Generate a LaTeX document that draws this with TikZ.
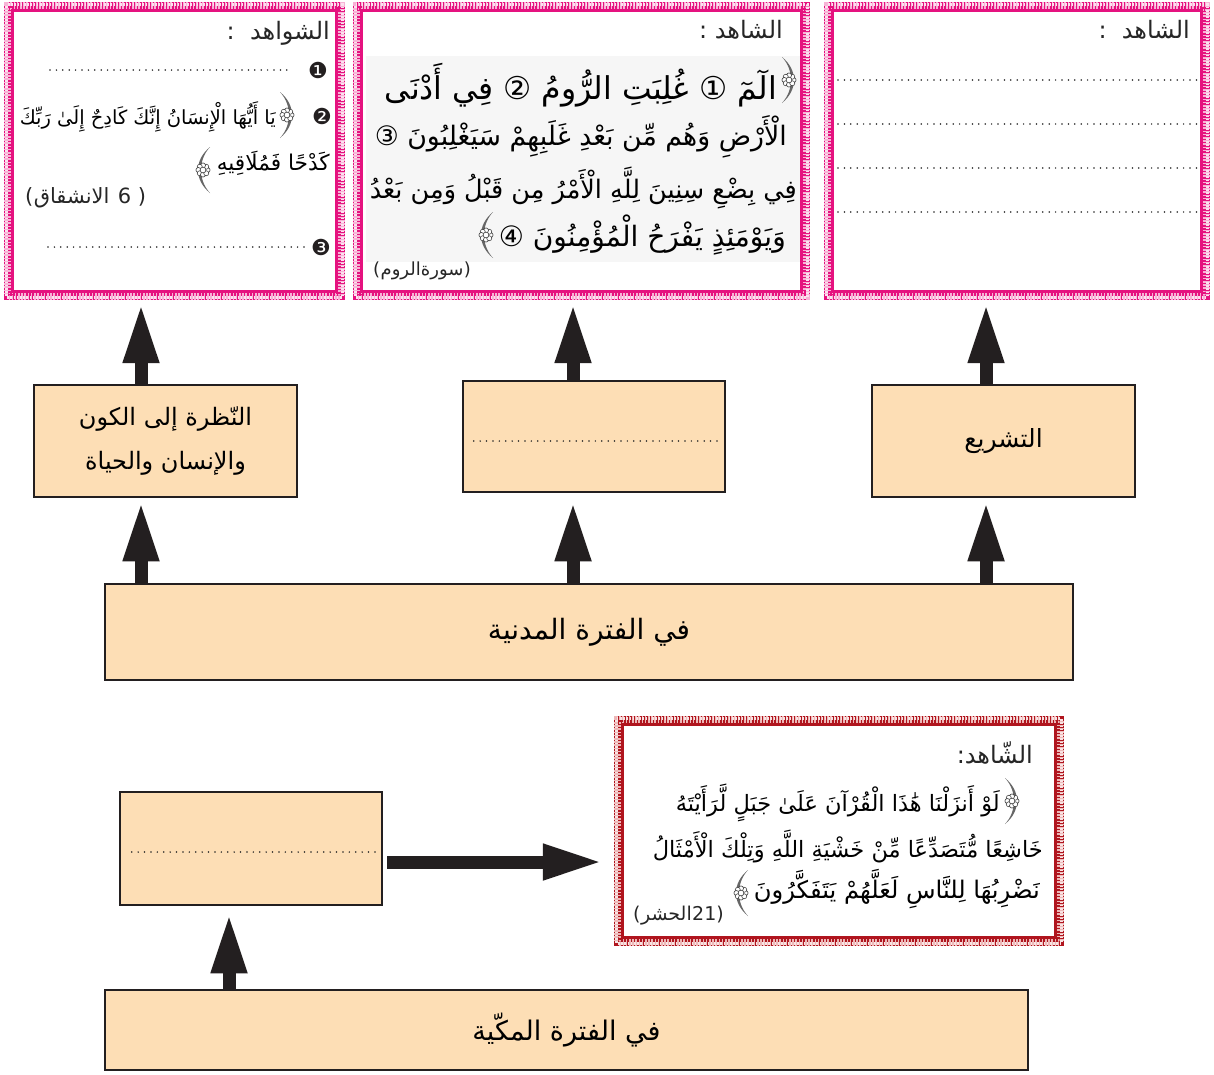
\documentclass[tikz,border=0pt]{standalone}
\usepackage{fontspec}
\usepackage{graphicx}
\usetikzlibrary{arrows.meta,calc}
\newfontfamily\ar[Script=Arabic]{DejaVu Sans}
\newfontfamily\djv{DejaVu Sans}
\TeXXeTstate=1
\definecolor{tanc}{HTML}{FDDEB5}
\definecolor{arrowc}{HTML}{231F20}
\definecolor{pinkD}{HTML}{E5127F}
\definecolor{pinkL}{HTML}{F7B3D6}
\definecolor{redD}{HTML}{B0151E}
\definecolor{redL}{HTML}{EDB8B8}
\newcommand\texframe[3]{%
  \draw[#3, line width=9pt] ([shift={(4.5pt,-4.5pt)}]#1.north west) rectangle ([shift={(-4.5pt,4.5pt)}]#1.south east);
  \draw[#2, line width=9pt, dash pattern=on 1.6pt off 1.6pt] ([shift={(4.5pt,-4.5pt)}]#1.north west) rectangle ([shift={(-4.5pt,4.5pt)}]#1.south east);
  \draw[#3!40!white, line width=3pt, dash pattern=on 1.6pt off 1.6pt, dash phase=1.6pt] ([shift={(3pt,-3pt)}]#1.north west) rectangle ([shift={(-3pt,3pt)}]#1.south east);
  \draw[#2, line width=2.5pt] ([shift={(8.5pt,-8.5pt)}]#1.north west) rectangle ([shift={(-8.5pt,8.5pt)}]#1.south east);
}
% small eight-petal flower
\newcommand\flw[1]{%
  \foreach \a in {0,45,...,315}{\filldraw[draw=black!75, fill=white, line width=0.6pt] ($#1+(\a:4.6pt)$) circle (2.5pt);}
  \filldraw[draw=black!75, fill=white, line width=0.6pt] #1 circle (2.9pt);}
% ornate brackets drawn as shapes (no installed font has U+FD3E/FD3F)
\newcommand\ornL[1]{% "(" shaped, at the left end of a verse
  \fill[black!60] ($#1+(7,-23)$) .. controls ($#1+(-9,-10)$) and ($#1+(-9,10)$) .. ($#1+(7,23)$)
     .. controls ($#1+(-5,10)$) and ($#1+(-5,-10)$) .. ($#1+(7,-23)$) -- cycle;
  \flw{($#1+(0,0)$)}}
\newcommand\ornR[1]{% ")" shaped, at the right end of a verse
  \fill[black!60] ($#1+(-7,-23)$) .. controls ($#1+(9,-10)$) and ($#1+(9,10)$) .. ($#1+(-7,23)$)
     .. controls ($#1+(5,10)$) and ($#1+(5,-10)$) .. ($#1+(-7,-23)$) -- cycle;
  \flw{($#1+(0,0)$)}}
\newcommand\qline[2]{\resizebox{#1}{!}{#2}}
\begin{document}
\begin{tikzpicture}[x=1pt,y=-1pt,
  tanbox/.style={draw=arrowc, line width=2.5pt, fill=tanc, inner sep=0pt, font=\ar\fontsize{24}{44}\selectfont, align=center},
  frame/.style={inner sep=0pt, rectangle},
  bigarrow/.style={draw=arrowc, line width=13pt, -{Triangle[length=60pt,width=33pt]}},
  txt/.style={inner sep=0pt, font=\ar\fontsize{20}{24}\selectfont, text=black},
  ttl/.style={inner sep=0pt, font=\ar\fontsize{24}{28}\selectfont, text=black!85},
  src/.style={inner sep=0pt, font=\ar\fontsize{19}{22}\selectfont, text=black!85},
  srcl/.style={inner sep=0pt, font=\djv\fontsize{19}{22}\selectfont, text=black!85},
  num/.style={inner sep=0pt, font=\djv\fontsize{22}{24}\selectfont, text=arrowc},
  dotline/.style={line width=1.7pt, dash pattern=on 0pt off 6.4pt, line cap=round, draw=black!85},
]
\useasboundingbox (0,0) rectangle (1214,1074);
\fill[white] (0,0) rectangle (1214,1074);

% frames
\node[frame, minimum width=341pt, minimum height=298pt] (f1) at (174.5,151) {};
\node[frame, minimum width=457pt, minimum height=298pt] (f2) at (581.5,151) {};
\node[frame, minimum width=386pt, minimum height=298pt] (f3) at (1017,151) {};
\node[frame, minimum width=450pt, minimum height=230pt] (f4) at (839,831) {};
\fill[gray!7] (366,56) rectangle (801,262);
\texframe{f1}{pinkD}{pinkL}
\texframe{f2}{pinkD}{pinkL}
\texframe{f3}{pinkD}{pinkL}
\texframe{f4}{redD}{redL}

% tan boxes
\node[tanbox, minimum width=263pt, minimum height=112pt] (b1) at (165.5,441) {\beginR النّظرة إلى الكون\endR\\\beginR والإنسان والحياة\endR};
\node[tanbox, minimum width=262pt, minimum height=111pt] (b2) at (594,436.5) {};
\node[tanbox, minimum width=263pt, minimum height=112pt, font=\ar\fontsize{25}{30}\selectfont] (b3) at (1003.5,441) {التشريع};
\node[tanbox, minimum width=968pt, minimum height=96pt, font=\ar\fontsize{28}{32}\selectfont] (madani) at (589,632) {\beginR في الفترة المدنية\endR};
\node[tanbox, minimum width=262pt, minimum height=113pt] (b4) at (251,848.5) {};
\node[tanbox, minimum width=923pt, minimum height=80pt, font=\ar\fontsize{27}{32}\selectfont] (makki) at (566.5,1030) {\beginR في الفترة المكّية\endR};
\draw[dotline] ($(b2.west)+(12,4.5)$) -- ($(b2.east)+(-7,4.5)$);
\draw[dotline] ($(b4.west)+(13,3.5)$) -- ($(b4.east)+(-5,3.5)$);

% arrows
\draw[bigarrow, shorten >=3pt] ([xshift=-24.5pt]b1.north) -- ([xshift=-24.5pt]b1.north |- f1.south);
\draw[bigarrow, shorten >=3pt] ([xshift=-21pt]b2.north) -- ([xshift=-21pt]b2.north |- f2.south);
\draw[bigarrow, shorten >=3pt] ([xshift=-17.5pt]b3.north) -- ([xshift=-17.5pt]b3.north |- f3.south);
\draw[bigarrow, shorten >=3pt] ([xshift=-24.5pt]b1.south |- madani.north) -- ([xshift=-24.5pt]b1.south);
\draw[bigarrow, shorten >=8pt] ([xshift=-21pt]b2.south |- madani.north) -- ([xshift=-21pt]b2.south);
\draw[bigarrow, shorten >=3pt] ([xshift=-17.5pt]b3.south |- madani.north) -- ([xshift=-17.5pt]b3.south);
\draw[bigarrow, shorten >=7pt] ([xshift=-22pt]b4.south |- makki.north) -- ([xshift=-22pt]b4.south);
\draw[bigarrow, shorten <=4pt, shorten >=11pt] ([yshift=-13.5pt]b4.east) -- ([yshift=-13.5pt]b4.east -| f4.west);

% frame 1 content
\node[ttl, anchor=east] (t1) at (330,33) {\beginR الشواهد~~:\endR};
\node[num] (n1) at (318,70) {❶};
\draw[dotline] (50,70) -- (292,70);
\node[num] (n2) at (322,116) {❷};
\ornR{(287,115)}
\node[txt, anchor=east] (q1a) at (276,117) {\qline{256pt}{\beginR يَا أَيُّهَا الْإِنسَانُ إِنَّكَ كَادِحٌ إِلَىٰ رَبِّكَ\endR}};
\node[txt, anchor=east] (q1b) at (330,163) {\qline{113pt}{\beginR كَدْحًا فَمُلَاقِيهِ\endR}};
\node[srcl, anchor=base west, font=\djv\fontsize{21}{24}\selectfont] (s1a) at (25,203) {(};
\node[src, anchor=base west, font=\ar\fontsize{21}{24}\selectfont] (s1b) at (s1a.base east) {الانشقاق};
\node[srcl, anchor=base west, font=\djv\fontsize{21}{24}\selectfont] (s1c) at ([xshift=8pt]s1b.base east) {6 )};
\ornL{(203,170)}
\node[num] (n3) at (321,247) {❸};
\draw[dotline] (48,247) -- (307,247);

% frame 2 content
\node[ttl, anchor=east] (t2) at (783,30) {\beginR الشاهد :\endR};
\ornR{(789,80)}
\node[txt, anchor=east] (q2a) at (777,85) {\qline{392pt}{\beginR الٓمٓ ① غُلِبَتِ الرُّومُ ② فِي أَدْنَى\endR}};
\node[txt, anchor=east] (q2b) at (787,137) {\qline{412pt}{\beginR الْأَرْضِ وَهُم مِّن بَعْدِ غَلَبِهِمْ سَيَغْلِبُونَ ③\endR}};
\node[txt, anchor=east] (q2c) at (797,188) {\qline{427pt}{\beginR فِي بِضْعِ سِنِينَ لِلَّهِ الْأَمْرُ مِن قَبْلُ وَمِن بَعْدُ\endR}};
\node[txt, anchor=east] (q2d) at (786,235) {\qline{287pt}{\beginR وَيَوْمَئِذٍ يَفْرَحُ الْمُؤْمِنُونَ ④\endR}};
\ornL{(486,235)}
\node[srcl, anchor=base west, font=\djv\fontsize{18}{22}\selectfont] (s2a) at (373,275) {(};
\node[src, anchor=base west, font=\ar\fontsize{18}{22}\selectfont] (s2b) at (s2a.base east) {سورةالروم};
\node[srcl, anchor=base west, font=\djv\fontsize{18}{22}\selectfont] (s2c) at (s2b.base east) {)};

% frame 3 content
\node[ttl, anchor=east] (t3) at (1190,30) {\beginR الشاهد~~:\endR};
\draw[dotline] (838,80) -- (1200,80);
\draw[dotline] (838,124) -- (1200,124);
\draw[dotline] (838,168) -- (1200,168);
\draw[dotline] (838,212) -- (1200,212);

% frame 4 content
\node[ttl, anchor=east] (t4) at (1033,753) {الشّاهد:};
\ornR{(1012,801)}
\node[txt, anchor=east] (q4a) at (1000,803) {\qline{324pt}{\beginR لَوْ أَنزَلْنَا هَٰذَا الْقُرْآنَ عَلَىٰ جَبَلٍ لَّرَأَيْتَهُ\endR}};
\node[txt, anchor=east] (q4b) at (1043,846) {\qline{390pt}{\beginR خَاشِعًا مُّتَصَدِّعًا مِّنْ خَشْيَةِ اللَّهِ وَتِلْكَ الْأَمْثَالُ\endR}};
\node[txt, anchor=east] (q4c) at (1040,889) {\qline{286pt}{\beginR نَضْرِبُهَا لِلنَّاسِ لَعَلَّهُمْ يَتَفَكَّرُونَ\endR}};
\ornL{(741,893)}
\node[srcl, anchor=base west] (s4a) at (633,920) {(};
\node[src, anchor=base west] (s4b) at (s4a.base east) {الحشر};
\node[srcl, anchor=base west] (s4c) at (s4b.base east) {21)};
\end{tikzpicture}
\end{document}
